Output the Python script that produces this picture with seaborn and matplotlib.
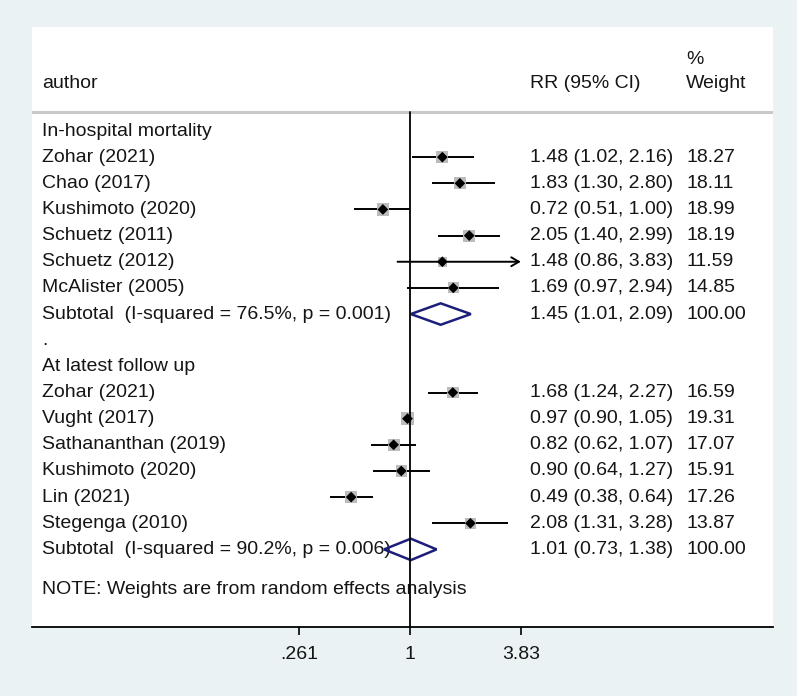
import numpy as np
import pandas as pd
import matplotlib
matplotlib.use("Agg")
import matplotlib.pyplot as plt
import matplotlib.transforms as mtransforms
from matplotlib.patches import Polygon
from matplotlib.ticker import NullLocator, FixedLocator, FixedFormatter
import seaborn as sns

# ---------------- data ----------------
group1_label = "In-hospital mortality"
group1_authors = ["Zohar (2021)", "Chao (2017)", "Kushimoto (2020)", "Schuetz (2011)",
                  "Schuetz (2012)", "McAlister (2005)"]
group1_rr = [1.48, 1.83, 0.72, 2.05, 1.48, 1.69]
group1_lo = [1.02, 1.30, 0.51, 1.40, 0.86, 0.97]
group1_hi = [2.16, 2.80, 1.00, 2.99, 3.83, 2.94]
group1_w = [18.27, 18.11, 18.99, 18.19, 11.59, 14.85]
group1_sub_label = "Subtotal  (I-squared = 76.5%, p = 0.001)"
group1_sub = [1.45, 1.01, 2.09, 100.00]

group2_label = "At latest follow up"
group2_authors = ["Zohar (2021)", "Vught (2017)", "Sathananthan (2019)", "Kushimoto (2020)",
                  "Lin (2021)", "Stegenga (2010)"]
group2_rr = [1.68, 0.97, 0.82, 0.90, 0.49, 2.08]
group2_lo = [1.24, 0.90, 0.62, 0.64, 0.38, 1.31]
group2_hi = [2.27, 1.05, 1.07, 1.27, 0.64, 3.28]
group2_w = [16.59, 19.31, 17.07, 15.91, 17.26, 13.87]
group2_sub_label = "Subtotal  (I-squared = 90.2%, p = 0.006)"
group2_sub = [1.01, 0.73, 1.38, 100.00]

tick_values = [0.261, 1, 3.83]
tick_labels = [".261", "1", "3.83"]
axis_max = 3.83
note_text = "NOTE: Weights are from random effects analysis"

# ---------------- layout ----------------
W, H = 797, 696
bg = "#EAF2F3"
txt_color = "#151515"
navy = "#1c1f7a"
fs = 14

sns.set_style("white")
plt.rcParams["font.family"] = ["Liberation Sans", "DejaVu Sans"]

fig = plt.figure(figsize=(W / 100, H / 100), dpi=100, facecolor=bg)
px_l, px_r, px_t, px_b = 32, 773, 27, 627
ax = fig.add_axes([px_l / W, (H - px_b) / H, (px_r - px_l) / W, (px_b - px_t) / H])
ax.set_facecolor("white")

# rows
row0_px, row_h = 131, 26.15
def prow(p):
    return (p - row0_px) / row_h

rows1 = list(range(1, 7))
sub1_row = 7
dot_row = 8
g2_row = 9
rows2 = list(range(10, 16))
sub2_row = 16
note_row = prow(590)
hdr_row = prow(84)
pct_row = prow(60)
sep_row = prow(112)

df = pd.DataFrame({
    "author": group1_authors + group2_authors,
    "rr": group1_rr + group2_rr,
    "lo": group1_lo + group2_lo,
    "hi": group1_hi + group2_hi,
    "w": group1_w + group2_w,
    "row": rows1 + rows2,
})

ax.set_xscale("log")
xmin = 10 ** ((px_l - 410) / 190)
xmax = 10 ** ((px_r - 410) / 190)

# CI lines
for _, r in df.iterrows():
    if r["hi"] >= axis_max:
        ax.annotate("", xy=(r["hi"], r["row"]), xytext=(r["lo"], r["row"]),
                    arrowprops=dict(arrowstyle="->,head_length=0.55,head_width=0.32",
                                    color="black", lw=1.4, shrinkA=0, shrinkB=0),
                    zorder=2)
    else:
        ax.plot([r["lo"], r["hi"]], [r["row"], r["row"]], color="black", lw=1.4, zorder=2,
                solid_capstyle="butt")

# weight boxes (area proportional to weight)
wmin, wmax = df["w"].min(), df["w"].max()
k = 4.2
sns.scatterplot(data=df, x="rr", y="row", size="w", sizes=(k * wmin, k * wmax),
                size_norm=(wmin, wmax), marker="s", color="#bcbcbc", edgecolor="none",
                linewidth=0, legend=False, ax=ax, zorder=3)
# point estimates
sns.scatterplot(data=df, x="rr", y="row", marker="D", s=30, color="black",
                edgecolor="none", linewidth=0, legend=False, ax=ax, zorder=4)

# subtotal diamonds
for row, (est, lo, hi, _) in [(sub1_row, group1_sub), (sub2_row, group2_sub)]:
    hh = 0.41
    poly = Polygon([(lo, row), (est, row - hh), (hi, row), (est, row + hh)],
                   closed=True, fill=False, edgecolor=navy, lw=1.8, zorder=5)
    ax.add_patch(poly)

# null line
ax.plot([1, 1], [sep_row, prow(px_b)], color="black", lw=1.3, zorder=6)
# header separator
ax.plot([xmin, xmax], [sep_row, sep_row], color="#c9c9c9", lw=2.2, zorder=1)

# texts
tr = mtransforms.blended_transform_factory(ax.transAxes, ax.transData)
def axx(p):
    return (p - px_l) / (px_r - px_l)
xa, xrr, xw = axx(42), axx(530), axx(686)

def t(x, y, s):
    ax.text(x, y, s, transform=tr, ha="left", va="center", fontsize=fs, color=txt_color,
            zorder=3)

t(xa, hdr_row, "author")
t(xrr, hdr_row, "RR (95% CI)")
t(xw, pct_row, "%")
t(xw, hdr_row, "Weight")

t(xa, 0, group1_label)
for a, rr, lo, hi, w, row in zip(group1_authors, group1_rr, group1_lo, group1_hi, group1_w, rows1):
    t(xa, row, a)
    t(xrr, row, f"{rr:.2f} ({lo:.2f}, {hi:.2f})")
    t(xw, row, f"{w:.2f}")
t(xa, sub1_row, group1_sub_label)
t(xrr, sub1_row, f"{group1_sub[0]:.2f} ({group1_sub[1]:.2f}, {group1_sub[2]:.2f})")
t(xw, sub1_row, f"{group1_sub[3]:.2f}")

t(xa, dot_row, ".")
t(xa, g2_row, group2_label)
for a, rr, lo, hi, w, row in zip(group2_authors, group2_rr, group2_lo, group2_hi, group2_w, rows2):
    t(xa, row, a)
    t(xrr, row, f"{rr:.2f} ({lo:.2f}, {hi:.2f})")
    t(xw, row, f"{w:.2f}")
t(xa, sub2_row, group2_sub_label)
t(xrr, sub2_row, f"{group2_sub[0]:.2f} ({group2_sub[1]:.2f}, {group2_sub[2]:.2f})")
t(xw, sub2_row, f"{group2_sub[3]:.2f}")

t(xa, note_row, note_text)

# axes styling
ax.set_xlim(xmin, xmax)
ax.set_ylim(prow(px_b), prow(px_t))
ax.set_xlabel("")
ax.set_ylabel("")
ax.set_yticks([])
ax.xaxis.set_minor_locator(NullLocator())
ax.xaxis.set_major_locator(FixedLocator(tick_values))
ax.xaxis.set_major_formatter(FixedFormatter(tick_labels))
ax.tick_params(axis="x", which="major", direction="out", length=6, width=1.2,
               color="black", labelsize=fs, labelcolor=txt_color, pad=8, bottom=True)
for s in ["top", "left", "right"]:
    ax.spines[s].set_visible(False)
ax.spines["bottom"].set_color("black")
ax.spines["bottom"].set_linewidth(1.3)

fig.savefig("out.png", dpi=100, facecolor=bg)
